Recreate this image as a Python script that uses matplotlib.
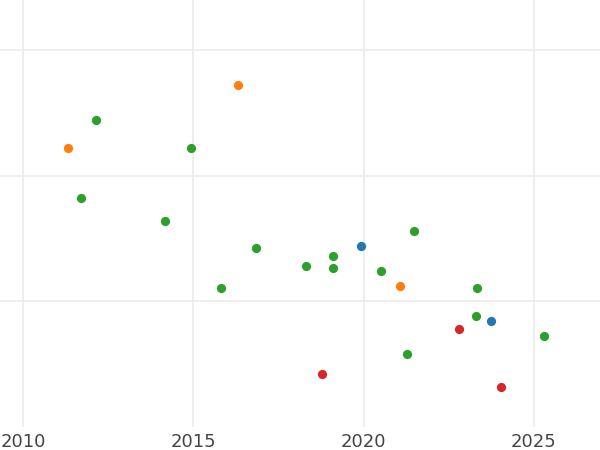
import matplotlib
matplotlib.use("Agg")
import matplotlib.pyplot as plt

# Points per group (year, value)
orange_x = [2016.32, 2011.32, 2021.07]
orange_y = [2.72, 2.223, 1.123]

green_x = [2012.15, 2014.92, 2011.70, 2014.16, 2016.85, 2015.82, 2018.31,
           2019.09, 2019.09, 2020.50, 2021.48, 2023.33, 2023.30, 2021.26, 2025.31]
green_y = [2.443, 2.223, 1.823, 1.642, 1.422, 1.103, 1.282,
           1.361, 1.263, 1.242, 1.562, 1.103, 0.884, 0.582, 0.722]

blue_x = [2019.92, 2023.74]
blue_y = [1.441, 0.841]

red_x = [2022.80, 2018.78, 2024.04]
red_y = [0.780, 0.422, 0.321]

xticks = [2010, 2015, 2020, 2025]
yticks = [1, 2, 3]

fig = plt.figure(figsize=(6, 4.5), dpi=100)
ax = fig.add_axes([0, 23 / 450, 1, 427 / 450])

size = 44
ax.scatter(green_x, green_y, s=size, color="#2ca02c", zorder=3, linewidths=0)
ax.scatter(orange_x, orange_y, s=size, color="#ff7f0e", zorder=3, linewidths=0)
ax.scatter(blue_x, blue_y, s=size, color="#1f77b4", zorder=3, linewidths=0)
ax.scatter(red_x, red_y, s=size, color="#d62728", zorder=3, linewidths=0)

ax.set_xlim(2009.325, 2026.94)
ax.set_ylim(0, 3.4)
ax.set_xticks(xticks)
ax.set_xticklabels([str(t) for t in xticks])
ax.set_yticks(yticks)
ax.set_yticklabels([])

ax.grid(True, color="#ebebeb", linewidth=1.2, zorder=0)
ax.set_axisbelow(True)
for s in ax.spines.values():
    s.set_visible(False)
ax.tick_params(axis="both", length=0)
ax.tick_params(axis="x", labelsize=13, labelcolor="#444444", pad=4)

fig.savefig("out.png", dpi=100)
